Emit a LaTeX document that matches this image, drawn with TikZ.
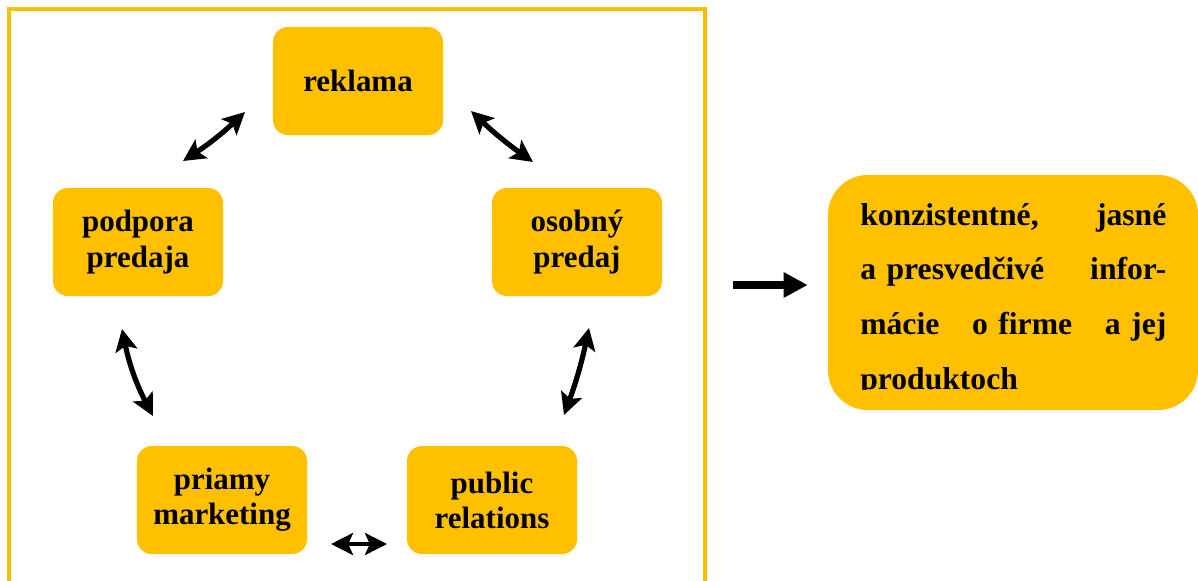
\documentclass[tikz,border=0pt]{standalone}
\usepackage{fontspec}
\setmainfont{Liberation Serif}
\usetikzlibrary{arrows.meta}
\definecolor{gold}{HTML}{FFC000}

\begin{document}
\begin{tikzpicture}[x = 0.025cm, y = -0.025cm,
        box/.style = {fill = gold, rounded corners = 0.375cm, minimum width = 4.25cm,
            minimum height = 2.7cm, align = center, inner sep = 0pt,
            font = \bfseries\fontsize{22}{25}\selectfont},
        dbl/.style = {{Stealth[length = 0.55cm, width = 0.55cm, inset = 0.12cm]}-{Stealth[length = 0.55cm, width = 0.55cm, inset = 0.12cm]}, line width = 0.13cm}]
        \useasboundingbox (0, 0) rectangle (1198, 580);

        % frame
        \draw[gold, line width = 0.12cm] (9, 600) -- (9, 9) -- (705, 9) -- (705, 600);

        \begin{scope}
            \node[box] (reklama) at (358, 81) {reklama};
            \node[box] (podpora) at (138, 242) {podpora\\predaja};
            \node[box] (osobny) at (577, 242) {osobný\\predaj};
            \node[box] (priamy) at (222, 500) {priamy\\marketing};
            \node[box] (pr) at (492, 500) {public\\relations};
        \end{scope}

        \begin{scope}
            \coordinate (a1s) at (245, 112);
            \coordinate (a1e) at (183, 161);
            \coordinate (a2s) at (471, 111);
            \coordinate (a2e) at (533, 162);
            \coordinate (a3s) at (122, 329);
            \coordinate (a3e) at (153, 416);
            \coordinate (a4s) at (589, 328);
            \coordinate (a4e) at (564, 415);
            \coordinate (a5s) at (331, 544);
            \coordinate (a5e) at (387, 544);
            \draw[dbl] (a1s) to[bend left = 5] (a1e);
            \draw[dbl] (a2s) to[bend right = 4] (a2e);
            \draw[dbl] (a3s) to[bend right = 8] (a3e);
            \draw[dbl] (a4s) to[bend left = 4] (a4e);
            \draw[dbl, line width = 0.1cm] (a5s) -- (a5e);
        \end{scope}

        % result
        \node[fill = gold, rounded corners = 1cm, minimum width = 9.25cm, minimum height = 5.875cm,
            inner sep = 0pt] (ibox) at (1013, 292.5) {};
        \coordinate (src) at (733, 285);
        \draw[line width = 0.2cm, -{Triangle[length = 0.6cm, width = 0.6cm]}, shorten > = 0.5cm]
            (src) -- (src -| ibox.west);
        \begin{scope}
            \clip (828, 175) rectangle (1198, 389);
            \node[anchor = base west, text width = 7.65cm, align = left, inner sep = 0pt,
                font = \bfseries\fontsize{22.5}{39}\selectfont] (info) at (860, 225)
                {konzistentné,\hfill jasné\\ a~presvedčivé\hfill infor-\\ mácie\hfill o~firme\hfill a~jej\\ produktoch};
        \end{scope}
    \end{tikzpicture}
\end{document}
